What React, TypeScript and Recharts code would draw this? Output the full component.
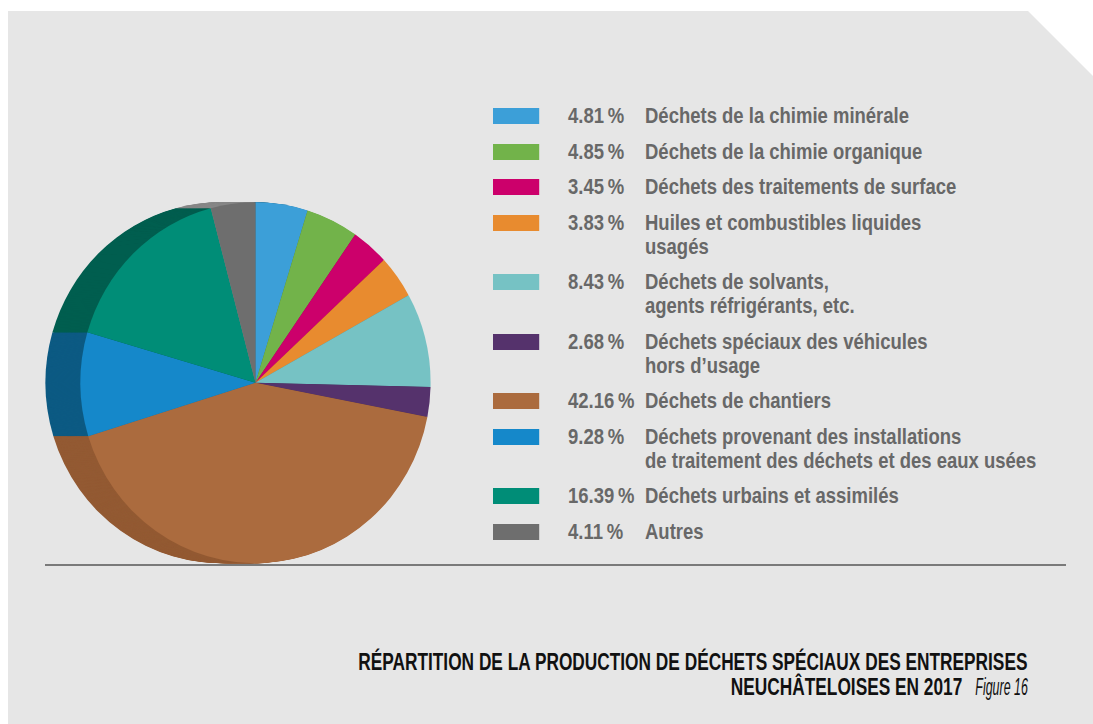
import { Cell, Pie, PieChart } from 'recharts';

const CATEGORIES = [
    'Déchets de la chimie minérale',
    'Déchets de la chimie organique',
    'Déchets des traitements de surface',
    'Huiles et combustibles liquides\nusagés',
    'Déchets de solvants,\nagents réfrigérants, etc.',
    'Déchets spéciaux des véhicules\nhors d’usage',
    'Déchets de chantiers',
    'Déchets provenant des installations\nde traitement des déchets et des eaux usées',
    'Déchets urbains et assimilés',
    'Autres',
];
const VALUES = [4.81, 4.85, 3.45, 3.83, 8.43, 2.68, 42.16, 9.28, 16.39, 4.11];
const COLORS = ['#3c9fd8', '#72b34a', '#cc006b', '#e88b2f', '#76c2c4', '#55326c', '#ab6b3e', '#1588ca', '#008d77', '#6e6e6e'];
const SHADOW_COLORS = ['#2b6f90', '#4f7d35', '#8c004a', '#a56121', '#508a8b', '#3b2349', '#935a33', '#0c5a83', '#005e4f', '#878787'];

const TITLE_1 = 'RÉPARTITION DE LA PRODUCTION DE DÉCHETS SPÉCIAUX DES ENTREPRISES';
const TITLE_2 = 'NEUCHÂTELOISES EN 2017';
const FIGURE = 'Figure 16';

// no condensed face installed, so Liberation Sans gets squeezed with scaleX
const FONT = "'Liberation Sans', Arial, sans-serif";
const LEGEND_SQUEEZE = 0.84;
const TITLE_SQUEEZE = 0.72;

const CX = 247.5;
const CY = 371.7;
const R = 180.5;
const DEPTH = 36;

const pieData = CATEGORIES.map((name, i) => ({ name, value: VALUES[i] }));
const shadowSteps = Array.from({ length: DEPTH }, (_, i) => DEPTH - i);

export default function App() {
    return (
        <div style={{ position: 'relative', width: 1093, height: 724, overflow: 'hidden', background: '#fff' }}>
            <style>{'html,body{margin:0;padding:0;overflow:hidden;background:#fff}'}</style>
            <div
                style={{
                    position: 'absolute',
                    left: 8,
                    top: 11,
                    width: 1085,
                    height: 713,
                    background: '#e6e6e6',
                    clipPath: 'polygon(0 0, 1020px 0, 1085px 65px, 1085px 100%, 0 100%)',
                }}
            >
                <div style={{ position: 'absolute', left: 0, top: 0, transform: 'scaleX(0.97)', transformOrigin: `${CX}px ${CY}px` }}>
                    <PieChart width={480} height={600} margin={{ top: 0, right: 0, bottom: 0, left: 0 }}>
                        {shadowSteps.map((d) => (
                            <Pie
                                key={`shadow-${d}`}
                                data={pieData}
                                dataKey="value"
                                cx={CX - d}
                                cy={CY}
                                outerRadius={R}
                                startAngle={90}
                                endAngle={-270}
                                stroke="none"
                                legendType="none"
                                isAnimationActive={false}
                            >
                                {pieData.map((_, i) => (
                                    <Cell key={i} fill={SHADOW_COLORS[i]} />
                                ))}
                            </Pie>
                        ))}
                        <Pie
                            data={pieData}
                            dataKey="value"
                            cx={CX}
                            cy={CY}
                            outerRadius={R}
                            startAngle={90}
                            endAngle={-270}
                            stroke="none"
                            isAnimationActive={false}
                        >
                            {pieData.map((_, i) => (
                                <Cell key={i} fill={COLORS[i]} />
                            ))}
                        </Pie>
                    </PieChart>
                </div>

                {/* legend */}
                <div
                    style={{
                        position: 'absolute',
                        left: 485,
                        top: 93,
                        display: 'flex',
                        flexDirection: 'column',
                        gap: 11.5,
                        fontFamily: FONT,
                        fontWeight: 700,
                        fontSize: 22,
                        lineHeight: '24px',
                        color: '#686868',
                        transform: `scaleX(${LEGEND_SQUEEZE})`,
                        transformOrigin: 'left top',
                    }}
                >
                    {CATEGORIES.map((name, i) => (
                        <div key={name} style={{ display: 'flex', alignItems: 'flex-start' }}>
                            <div style={{ width: 54.8, height: 16, marginTop: 4, background: COLORS[i] }} />
                            <div style={{ width: 91.7, marginLeft: 34.5, whiteSpace: 'nowrap' }}>{`${VALUES[i].toFixed(2)}\u2009%`}</div>
                            <div style={{ whiteSpace: 'pre' }}>{name}</div>
                        </div>
                    ))}
                </div>

                <div style={{ position: 'absolute', left: 37, top: 552.5, width: 1021, height: 2, background: '#7a7a7a' }} />

                <div
                    style={{
                        position: 'absolute',
                        right: 66,
                        top: 638.2,
                        textAlign: 'right',
                        fontFamily: FONT,
                        fontSize: 24,
                        lineHeight: '25px',
                        color: '#111',
                        whiteSpace: 'nowrap',
                        transform: `scaleX(${TITLE_SQUEEZE})`,
                        transformOrigin: 'right top',
                    }}
                >
                    <div style={{ fontWeight: 700 }}>{TITLE_1}</div>
                    <div>
                        <span style={{ fontWeight: 700 }}>{TITLE_2}</span>
                        <span style={{ display: 'inline-block', width: 72, marginLeft: 18.5, textAlign: 'left' }}>
                            <span style={{ display: 'inline-block', fontStyle: 'italic', transform: 'scaleX(0.72)', transformOrigin: 'left top' }}>
                                {FIGURE}
                            </span>
                        </span>
                    </div>
                </div>
            </div>
        </div>
    );
}
